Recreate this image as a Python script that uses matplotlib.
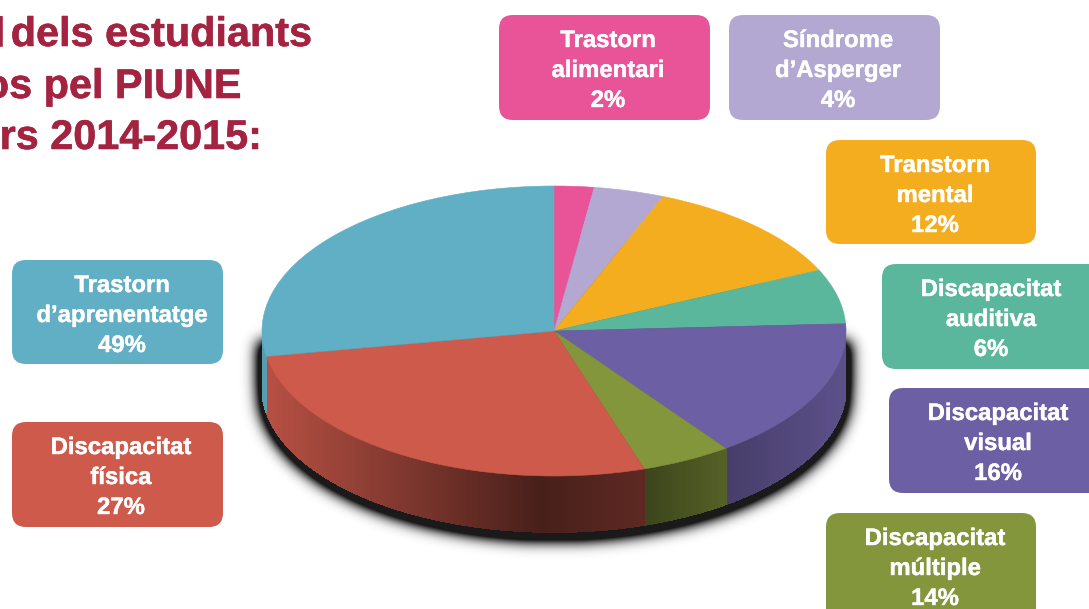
import numpy as np
import matplotlib
matplotlib.use("Agg")
import matplotlib.pyplot as plt
import matplotlib.patheffects as pe
from matplotlib.patches import FancyBboxPatch
from matplotlib.collections import PolyCollection

plt.rcParams['font.family'] = ['Liberation Sans', 'DejaVu Sans']

W, H = 1089, 609

# slices as they are drawn (the printed labels do not match them for every slice)
slice_values = [2.2, 3.9, 12, 6.1, 15.8, 5, 27.2, 27.8]
slice_colors = ['#E95397', '#B2A8D2', '#F4AD1E', '#5AB79B', '#6D5FA3', '#83963C', '#CD5A4B', '#61AFC5']

names = ['Trastorn\nalimentari', 'Síndrome\nd’Asperger', 'Transtorn\nmental', 'Discapacitat\nauditiva',
         'Discapacitat\nvisual', 'Discapacitat\nmúltiple', 'Discapacitat\nfísica', 'Trastorn\nd’aprenentatge']
percents = ['2%', '4%', '12%', '6%', '16%', '14%', '27%', '49%']

# left, top, right, bottom of the boxes, centre of the text
boxes = [(499, 15, 710, 120, 608), (729, 15, 940, 120, 838), (826, 140, 1036, 244, 935),
         (882, 264, 1110, 369, 991), (889, 388, 1110, 493, 998), (826, 513, 1036, 630, 935),
         (12, 422, 223, 527, 121), (12, 260, 223, 364, 122)]

title_lines = ['l', 'dels estudiants', 'os pel PIUNE', 'rs 2014-2015:']
title_right = [5, 312, 241, 262]
title_base = [46, 46, 98, 149]

fig = plt.figure(figsize=(W / 100, H / 100), dpi=100, facecolor='white')
bg = fig.add_axes([0, 0, 1, 1])
bg.set_xlim(0, W)
bg.set_ylim(H, 0)
bg.axis('off')

# blurred shadow under the pie: silhouette of the wall, blurred row by row
cx, cy, rx, ry = 554, 331, 292, 145
depth = 56
yy, xx = np.mgrid[0:H, 0:W]
mask = ((xx - cx) / (rx + 3)) ** 2 + ((yy - cy - depth - 4) / (ry + 3)) ** 2 <= 1
mask |= (np.abs(xx - cx) <= rx + 3) & (yy >= 342) & (yy <= cy + depth)
mask = mask.astype(float)
kx = np.arange(-24, 25)
kernel = np.exp(-kx ** 2 / (2 * 7.5 ** 2))
kernel /= kernel.sum()
blur = np.apply_along_axis(lambda r: np.convolve(r, kernel, mode='same'), 1, mask)
blur = np.apply_along_axis(lambda c: np.convolve(c, kernel, mode='same'), 0, blur)
shadow = np.zeros((H, W, 4))
shadow[..., 3] = np.clip(blur * 2.0, 0, 0.9)
bg.imshow(shadow, extent=(0, W, H, 0), aspect='auto', interpolation='bilinear', zorder=1)

# title, cut by the left edge like in the original
for line, xr, yb in zip(title_lines, title_right, title_base):
    bg.text(xr, yb, line, color='#A32341', fontsize=29.8, fontweight='bold', ha='right', va='baseline', zorder=5,
            path_effects=[pe.withStroke(linewidth=0.4, foreground='#A32341')])

# label boxes
for i in range(len(boxes)):
    x0, y0, x1, y1, xt = boxes[i]
    bg.add_patch(FancyBboxPatch((x0 + 14, y0 + 14), x1 - x0 - 28, y1 - y0 - 28,
                                boxstyle='round,pad=14,rounding_size=14',
                                fc=slice_colors[i], ec='none', zorder=3))
    txt = names[i] + '\n' + percents[i]
    for j, part in enumerate(txt.split('\n')):
        bg.text(xt, y0 + 25.5 + j * 30, part, color='white', fontsize=17.2, fontweight='bold',
                ha='center', va='center', zorder=4,
                path_effects=[pe.withStroke(linewidth=0.3, foreground='white')])

# pie axes, squashed to an ellipse
ax = fig.add_axes([(cx - rx) / W, 1 - (cy + ry + depth + 4) / H, 2 * rx / W, (2 * ry + depth + 4) / H])
ax.patch.set_alpha(0)

# side wall first, thin quads
shade_x = [-1, -0.05, 0.31, 0.59, 1]
shade_k = [0.9, 0.35, 0.46, 0.65, 0.85]
wall_h = depth / ry
bounds = 90 - np.cumsum([0] + slice_values) / np.sum(slice_values) * 360
polys, cols = [], []
for k, col in enumerate(slice_colors):
    base = np.array(matplotlib.colors.to_rgb(col))
    steps = np.linspace(bounds[k], bounds[k + 1], int(abs(bounds[k] - bounds[k + 1]) * 2) + 2)
    for a0, a1 in zip(steps[:-1], steps[1:]):
        s0, s1 = np.sin(np.radians([a0, a1]))
        if s0 >= 0 and s1 >= 0:
            continue
        x0, x1 = np.cos(np.radians([a0, a1]))
        polys.append([(x0, s0), (x1, s1), (x1, s1 - wall_h), (x0, s0 - wall_h)])
        cols.append(base * np.interp((x0 + x1) / 2, shade_x, shade_k))
ax.add_collection(PolyCollection(polys, facecolors=cols, edgecolors=cols, linewidths=0.6, antialiaseds=False))

wedges, _ = ax.pie(slice_values, colors=slice_colors, startangle=90, counterclock=False, radius=1,
                   wedgeprops={'linewidth': 0.4})
for w, col in zip(wedges, slice_colors):
    w.set_edgecolor(col)
ax.set_aspect('auto')
ax.set_xlim(-1, 1)
ax.set_ylim(-1 - (depth + 4) / ry, 1)
ax.axis('off')

fig.savefig('out.png', dpi=100)
